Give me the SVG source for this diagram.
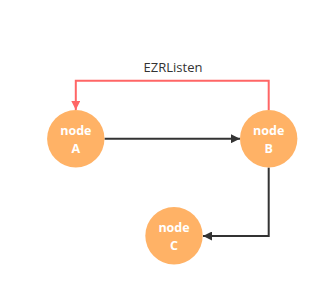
<svg xmlns="http://www.w3.org/2000/svg" width="329" height="296" viewBox="0 0 329 296">
<style>
.node{fill:#FFB266;}
.nt{font-family:"Open Sans","Noto Sans",sans-serif;font-size:12.5px;font-weight:bold;fill:#fff;text-anchor:middle;}
.edge{fill:none;stroke:#333;stroke-width:2;}
.red{fill:none;stroke:#FF6666;stroke-width:2;}
.lbl{font-family:"Open Sans","Noto Sans",sans-serif;font-size:13px;fill:#333;text-anchor:middle;}
</style>
<defs>
<marker id="ab" viewBox="0 0 10 10" refX="10" refY="5" markerWidth="15" markerHeight="9" markerUnits="userSpaceOnUse" orient="auto"><path d="M0,0L10,5L0,10z" fill="#333"/></marker>
<marker id="ar" viewBox="0 0 10 10" refX="10" refY="5" markerWidth="15" markerHeight="9" markerUnits="userSpaceOnUse" orient="auto"><path d="M0,0L10,5L0,10z" fill="#FF6666"/></marker>
</defs>
<rect width="329" height="296" fill="#fff"/>
<g id="connectors">
<path class="edge" d="M104.5,138.7H240" marker-end="url(#ab)"/>
<path class="edge" d="M268.7,167.5V236H203" marker-end="url(#ab)"/>
<path class="red" d="M268.7,110V80.7H75.8V110" marker-end="url(#ar)"/>
<text class="lbl" x="173" y="72">EZRListen</text>
</g>
<g id="nodeA">
<circle class="node" cx="75.8" cy="138.7" r="28.7"/>
<text class="nt" x="75.8" y="135">node</text>
<text class="nt" x="75.8" y="152.5">A</text>
</g>
<g id="nodeB">
<circle class="node" cx="268.7" cy="138.7" r="28.7"/>
<text class="nt" x="268.7" y="135">node</text>
<text class="nt" x="268.7" y="152.5">B</text>
</g>
<g id="nodeC">
<circle class="node" cx="174" cy="235.8" r="28.7"/>
<text class="nt" x="174" y="232">node</text>
<text class="nt" x="174" y="249.5">C</text>
</g>
</svg>
